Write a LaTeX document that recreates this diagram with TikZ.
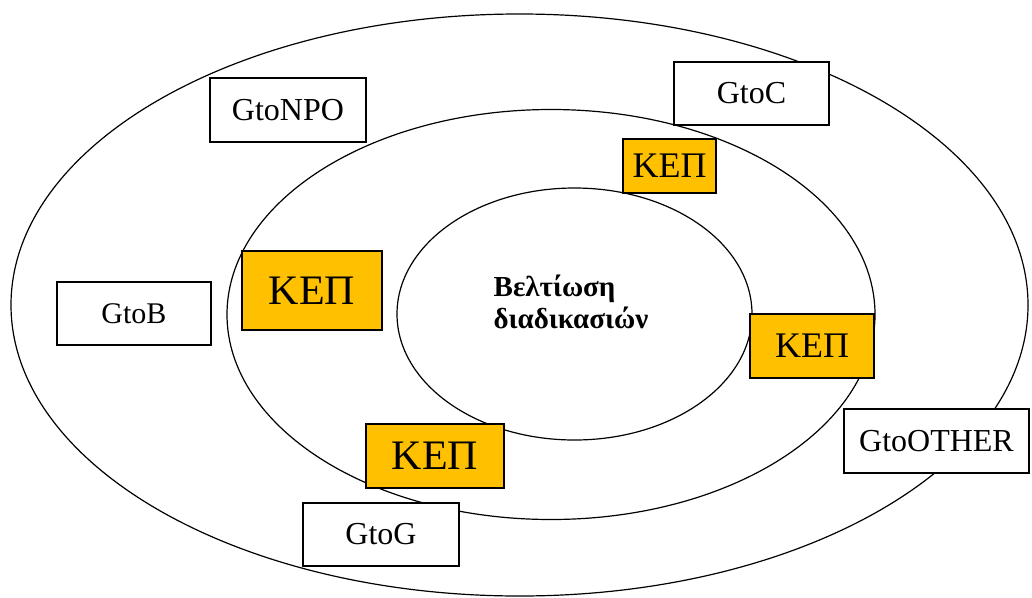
\documentclass[tikz,border=0pt]{standalone}
\usepackage{fontspec}
\setmainfont{Liberation Serif}
\definecolor{kepyellow}{HTML}{FFC000}
\tikzset{
  gbox/.style={draw, fill=white, inner sep=0pt, font=\fontsize{32}{38}\selectfont},
  kepbox/.style={draw, fill=kepyellow, inner sep=0pt}
}

\begin{document}
\begin{tikzpicture}[x=1pt, y=-1pt, line width=1.2pt]
\useasboundingbox (0,0) rectangle (1032,597);

%% rings
\draw (519.5,305) ellipse [x radius=508.5, y radius=291];
\draw (551,314.5) ellipse [x radius=324, y radius=205];
\draw (574.5,314) ellipse [x radius=177.5, y radius=126];

%% centre text
\node[align=left, inner sep=0pt, font=\bfseries\fontsize{29}{32}\selectfont] (core) at (571,302)
  {Βελτίωση\\διαδικασιών};

%% outer ring boxes
\node[gbox, minimum width=156, minimum height=64] (npo) at (288,110) {GtoNPO};
\node[gbox, minimum width=155, minimum height=63] (gtoc) at (751.5,93.5) {GtoC};
\node[gbox, minimum width=154, minimum height=63, font=\fontsize{30}{36}\selectfont] (gtob) at (134,313.5) {GtoB};
\node[gbox, minimum width=185, minimum height=64] (other) at (936.5,441) {GtoOTHER};
\node[gbox, minimum width=156, minimum height=63] (gtog) at (381,534.5) {GtoG};

%% KEP boxes
\node[kepbox, minimum width=93, minimum height=54, font=\fontsize{36}{40}\selectfont] (kepN) at (669.5,166) {ΚΕΠ};
\node[kepbox, minimum width=140, minimum height=79, font=\fontsize{42}{46}\selectfont] (kepW) at (312,290.5) {ΚΕΠ};
\node[kepbox, minimum width=124, minimum height=64, font=\fontsize{36}{40}\selectfont] (kepE) at (812,346) {ΚΕΠ};
\node[kepbox, minimum width=138, minimum height=64, font=\fontsize{42}{46}\selectfont] (kepS) at (435,456) {ΚΕΠ};

\end{tikzpicture}
\end{document}
